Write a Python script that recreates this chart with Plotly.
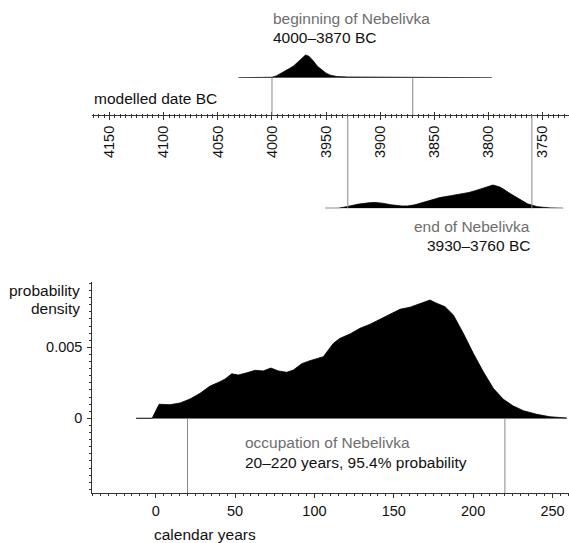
import plotly.graph_objects as go

W, H = 569, 543

# ---------------- data ----------------
# modelled date BC (top panel), relative densities (peak = 1)
begin_years = [4031, 4005, 4000, 3996, 3992, 3988, 3984, 3980, 3976, 3972, 3969, 3966,
               3962, 3958, 3954, 3950, 3946, 3940, 3930, 3915, 3900, 3890, 3880, 3870, 3860, 3797]
begin_dens = [0, 0, 0.02, 0.08, 0.18, 0.28, 0.40, 0.52, 0.70, 0.90, 1.0, 0.95,
              0.75, 0.5, 0.33, 0.2, 0.11, 0.05, 0.03, 0.025, 0.03, 0.045, 0.03, 0.015, 0.005, 0]
begin_range = [4000, 3870]

end_years = [3951, 3939, 3930, 3920, 3910, 3905, 3898, 3890, 3880, 3875, 3868, 3857, 3845,
             3835, 3826, 3818, 3810, 3803, 3796, 3790, 3786, 3780, 3773, 3767, 3764, 3755,
             3743, 3731]
end_dens = [0, 0, 0.08, 0.18, 0.24, 0.25, 0.22, 0.15, 0.10, 0.10, 0.15, 0.31, 0.46,
            0.54, 0.60, 0.68, 0.79, 0.88, 1.0, 0.92, 0.82, 0.63, 0.43, 0.27, 0.19, 0.07,
            0.015, 0]
end_range = [3930, 3760]

bc_ticks = [4150, 4100, 4050, 4000, 3950, 3900, 3850, 3800, 3750]

# occupation span (bottom panel)
occ_years = [-12.4, -2.3, 2.1, 9, 15.3, 21.6, 27.9, 34.2, 40.5, 43.7, 47.9, 52, 57.3, 62.6,
             67.8, 72.5, 77.3, 82.5, 86.7, 92, 97.2, 102.5, 105.6, 111.9, 116.1, 122.4,
             128.7, 135, 141.3, 147.6, 153.9, 160.2, 166.5, 172.8, 177, 182.3, 187.5,
             193.8, 200.1, 206.4, 212.7, 219, 225.3, 231.6, 240.1, 248.4, 259]
occ_dens = [0, 0, 0.00099, 0.00096, 0.00108, 0.00136, 0.00176, 0.00227, 0.00258, 0.00277,
            0.00314, 0.00305, 0.0032, 0.00338, 0.00334, 0.00354, 0.00334, 0.00324, 0.0034,
            0.00385, 0.00406, 0.00422, 0.00434, 0.00528, 0.00563, 0.00594, 0.00634, 0.00662,
            0.00699, 0.00734, 0.00768, 0.00782, 0.00805, 0.00833, 0.0081, 0.00786, 0.00728,
            0.00599, 0.00458, 0.00328, 0.00211, 0.00134, 0.00087, 0.00054, 0.00028, 0.00011,
            0.00002]
occ_range = [20, 220]
yr_ticks = [0, 50, 100, 150, 200, 250]
dens_ticks = [0, 0.005]
dens_ticktext = ["0", "0.005"]

# ---------------- helpers ----------------
def px(x):
    return x / W

def py(y):
    return 1 - y / H

FONT = "Liberation Sans, Arial, Helvetica, sans-serif"
GRAY_LINE = "#8a8a8a"
BASE_LINE = "#a0a0a0"
AX = "#333333"
GRAY_TXT = "#6e6e6e"
TXT_SIZE = 15.5

fig = go.Figure()

# baselines
fig.add_trace(go.Scatter(x=[begin_years[0], begin_years[-1]], y=[0, 0], mode="lines",
                         line=dict(color=BASE_LINE, width=1), xaxis="x", yaxis="y",
                         hoverinfo="skip"))
fig.add_trace(go.Scatter(x=[end_years[0], end_years[-1]], y=[0, 0], mode="lines",
                         line=dict(color=BASE_LINE, width=1), xaxis="x", yaxis="y2",
                         hoverinfo="skip"))
fig.add_trace(go.Scatter(x=[occ_years[0], occ_years[-1]], y=[0, 0], mode="lines",
                         line=dict(color=GRAY_LINE, width=1), xaxis="x2", yaxis="y3",
                         hoverinfo="skip"))

# distributions
fig.add_trace(go.Scatter(x=begin_years, y=begin_dens, mode="lines", fill="tozeroy",
                         fillcolor="black", line=dict(color="black", width=0.8),
                         xaxis="x", yaxis="y"))
fig.add_trace(go.Scatter(x=end_years, y=end_dens, mode="lines", fill="tozeroy",
                         fillcolor="black", line=dict(color="black", width=0.8),
                         xaxis="x", yaxis="y2"))
fig.add_trace(go.Scatter(x=occ_years, y=occ_dens, mode="lines", fill="tozeroy",
                         fillcolor="black", line=dict(color="black", width=0.8),
                         xaxis="x2", yaxis="y3"))
# invisible trace for the upward tick overlay axis
fig.add_trace(go.Scatter(x=[bc_ticks[0]], y=[0], mode="markers", marker=dict(opacity=0),
                         xaxis="x3", yaxis="y", hoverinfo="skip"))

AXIS_Y = 115.0
X_LEFT_TOP = 92.0
TOP_RANGE = [4166.2, 3725.7]

shapes = []
for v in begin_range:
    shapes.append(dict(type="line", xref="x", yref="paper", x0=v, x1=v,
                       y0=py(AXIS_Y), y1=py(77.7), line=dict(color=GRAY_LINE, width=1)))
for v in end_range:
    shapes.append(dict(type="line", xref="x", yref="paper", x0=v, x1=v,
                       y0=py(AXIS_Y), y1=py(208.3), line=dict(color=GRAY_LINE, width=1)))
for v in occ_range:
    shapes.append(dict(type="line", xref="x2", yref="y3", x0=v, x1=v,
                       y0=0, y1=-0.00528, line=dict(color=GRAY_LINE, width=1)))

tickfont = dict(family=FONT, size=14.5, color="#111")

fig.update_layout(
    width=W, height=H,
    margin=dict(l=0, r=0, t=0, b=0),
    paper_bgcolor="white", plot_bgcolor="white",
    showlegend=False,
    hovermode=False,
    font=dict(family=FONT, size=TXT_SIZE, color="#111"),
    shapes=shapes,
    xaxis=dict(domain=[px(X_LEFT_TOP), 1], range=TOP_RANGE, anchor="free",
               position=py(AXIS_Y), showline=True, linecolor=AX, linewidth=1,
               ticks="outside", ticklen=4, tickcolor=AX, tickwidth=1,
               tickvals=bc_ticks, tickangle=-90, tickfont=tickfont,
               minor=dict(ticks="outside", ticklen=2, dtick=5, tickcolor=AX),
               showgrid=False, zeroline=False),
    xaxis3=dict(domain=[px(X_LEFT_TOP), 1], range=TOP_RANGE, anchor="free",
                overlaying="x", side="top", position=py(AXIS_Y), showline=False,
                ticks="outside", ticklen=3, tickcolor=AX, tickwidth=1,
                tickvals=bc_ticks, showticklabels=False,
                minor=dict(ticks="outside", ticklen=1.5, dtick=5, tickcolor=AX),
                showgrid=False, zeroline=False),
    yaxis=dict(domain=[py(77.7), py(30)], range=[0, (77.7 - 30) / 22.7], visible=False,
               anchor="x", fixedrange=True),
    yaxis2=dict(domain=[py(208.3), py(160)], range=[0, (208.3 - 160) / 23.3], visible=False,
                anchor="x", fixedrange=True),
    xaxis2=dict(domain=[px(92.3), 1], range=[-40, 260.4], anchor="y3",
                showline=True, linecolor=AX, linewidth=1,
                ticks="outside", ticklen=4, tickcolor=AX, tickvals=yr_ticks,
                tickfont=tickfont,
                minor=dict(ticks="outside", ticklen=2, dtick=5, tickcolor=AX),
                showgrid=False, zeroline=False),
    yaxis3=dict(domain=[py(493.3), py(282.3)], range=[-0.00528, 0.009577], anchor="x2",
                showline=True, linecolor=AX, linewidth=1,
                ticks="outside", ticklen=4, tickcolor=AX, tickvals=dens_ticks,
                ticktext=dens_ticktext, tickfont=tickfont, ticklabelstandoff=2,
                minor=dict(ticks="outside", ticklen=2, dtick=0.0005, tickcolor=AX),
                showgrid=False, zeroline=False),
)

def label(text, x, y, anchor="left", color="#111"):
    fig.add_annotation(text=text, x=px(x), y=py(y), xref="paper", yref="paper",
                       xanchor=anchor, yanchor="middle", showarrow=False,
                       font=dict(family=FONT, size=TXT_SIZE, color=color))

label("beginning of Nebelivka", 270.7, 18.3, color=GRAY_TXT)
label("4000\u20133870 BC", 270.7, 37.7)
label("modelled date BC", 92, 99)
label("end of Nebelivka", 531.7, 226.7, anchor="right", color=GRAY_TXT)
label("3930\u20133760 BC", 531.7, 245.7, anchor="right")
label("probability", 82, 290, anchor="right")
label("density", 82, 308.3, anchor="right")
label("occupation of Nebelivka", 243.3, 442.3, color=GRAY_TXT)
label("20\u2013220 years, 95.4% probability", 243.3, 462.3)
label("calendar years", 151.7, 534.3)

fig.write_html(
    "out.html",
    config={"displayModeBar": False, "staticPlot": True},
    post_script="document.body.style.margin='0';document.body.style.overflow='hidden';",
)
